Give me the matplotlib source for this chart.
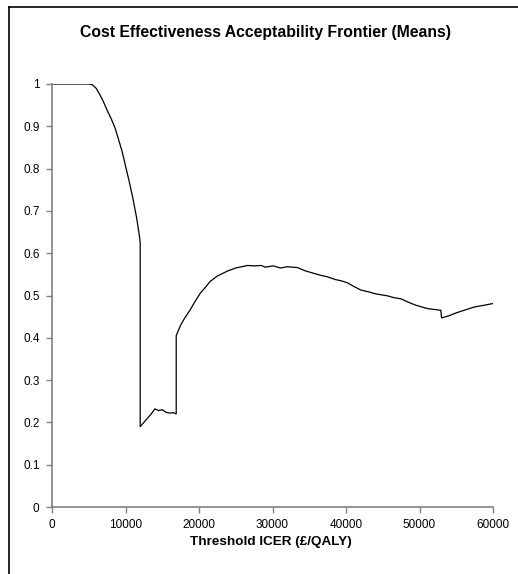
import matplotlib
matplotlib.use("Agg")
import matplotlib.pyplot as plt
from matplotlib.lines import Line2D

plt.rcParams['font.family'] = ['Liberation Sans', 'DejaVu Sans']

# threshold ICER (x) and probability on the frontier (y)
wtp = [0, 1000, 2000, 3000, 4000, 5000, 5500, 6000, 6500, 7000, 7500, 8000,
       8600, 9000, 9550, 9950, 10500, 11000, 11500, 11900, 12000, 12000,
       12500, 13000, 13500, 14000, 14500, 15000, 15500, 16000, 16500, 16900,
       16900, 17500, 18000, 18800, 19500, 20200, 21000, 21500, 22500, 23900,
       25000, 26600, 27500, 28500, 29000, 30100, 31100, 32000, 33400, 34500,
       35500, 36500, 37500, 38500, 39500, 40200, 41000, 42000, 43000, 44000,
       45700, 46500, 47500, 48500, 49500, 50500, 51100, 52000, 52900, 53000,
       54000, 55000, 56600, 57500, 58500, 60000]
prob = [1, 1, 1, 1, 1, 1, 0.998, 0.99, 0.975, 0.958, 0.938, 0.92,
        0.895, 0.872, 0.84, 0.81, 0.77, 0.73, 0.685, 0.64, 0.625, 0.19,
        0.2, 0.21, 0.22, 0.232, 0.228, 0.23, 0.224, 0.222, 0.223, 0.22,
        0.405, 0.43, 0.445, 0.466, 0.487, 0.506, 0.522, 0.533, 0.546, 0.558,
        0.565, 0.571, 0.57, 0.571, 0.567, 0.57, 0.565, 0.568, 0.566, 0.558,
        0.553, 0.548, 0.544, 0.538, 0.534, 0.53, 0.522, 0.513, 0.509, 0.504,
        0.499, 0.495, 0.492, 0.484, 0.477, 0.472, 0.469, 0.467, 0.465, 0.447,
        0.452, 0.459, 0.468, 0.473, 0.476, 0.481]

xticks = [0, 10000, 20000, 30000, 40000, 50000, 60000]
yticks = [0, 0.1, 0.2, 0.3, 0.4, 0.5, 0.6, 0.7, 0.8, 0.9, 1]
ylabels = ["0", "0.1", "0.2", "0.3", "0.4", "0.5", "0.6", "0.7", "0.8", "0.9", "1"]

fig = plt.figure(figsize=(5.18, 5.74), dpi=100)
ax = fig.add_axes([52 / 518, 1 - 507 / 574, 441 / 518, 423 / 574])

ax.plot(wtp, prob, color="black", lw=0.9)

ax.set_xlim(0, 60000)
ax.set_ylim(0, 1)
ax.set_xticks(xticks)
ax.set_xticklabels([str(t) for t in xticks])
ax.set_yticks(yticks)
ax.set_yticklabels(ylabels)
ax.tick_params(direction="out", length=4, width=1, color="#808080",
               labelsize=8.5, pad=5)

for s in ["top", "right"]:
    ax.spines[s].set_visible(False)
for s in ["left", "bottom"]:
    ax.spines[s].set_color("#808080")
    ax.spines[s].set_linewidth(1.2)

fig.text(265 / 518, 1 - 33 / 574, "Cost Effectiveness Acceptability Frontier (Means)",
         ha="center", va="center", fontsize=11.3, fontweight="bold")
fig.text(271 / 518, 1 - 542 / 574, "Threshold ICER (£/QALY)",
         ha="center", va="center", fontsize=9.7, fontweight="bold")

# chart area border (left and top edges)
fig.add_artist(Line2D([8.5 / 518, 8.5 / 518], [0, 1 - 7 / 574], color="black", lw=1.2))
fig.add_artist(Line2D([8.5 / 518, 1], [1 - 7 / 574, 1 - 7 / 574], color="black", lw=1.2))

fig.savefig("out.png", dpi=100)
